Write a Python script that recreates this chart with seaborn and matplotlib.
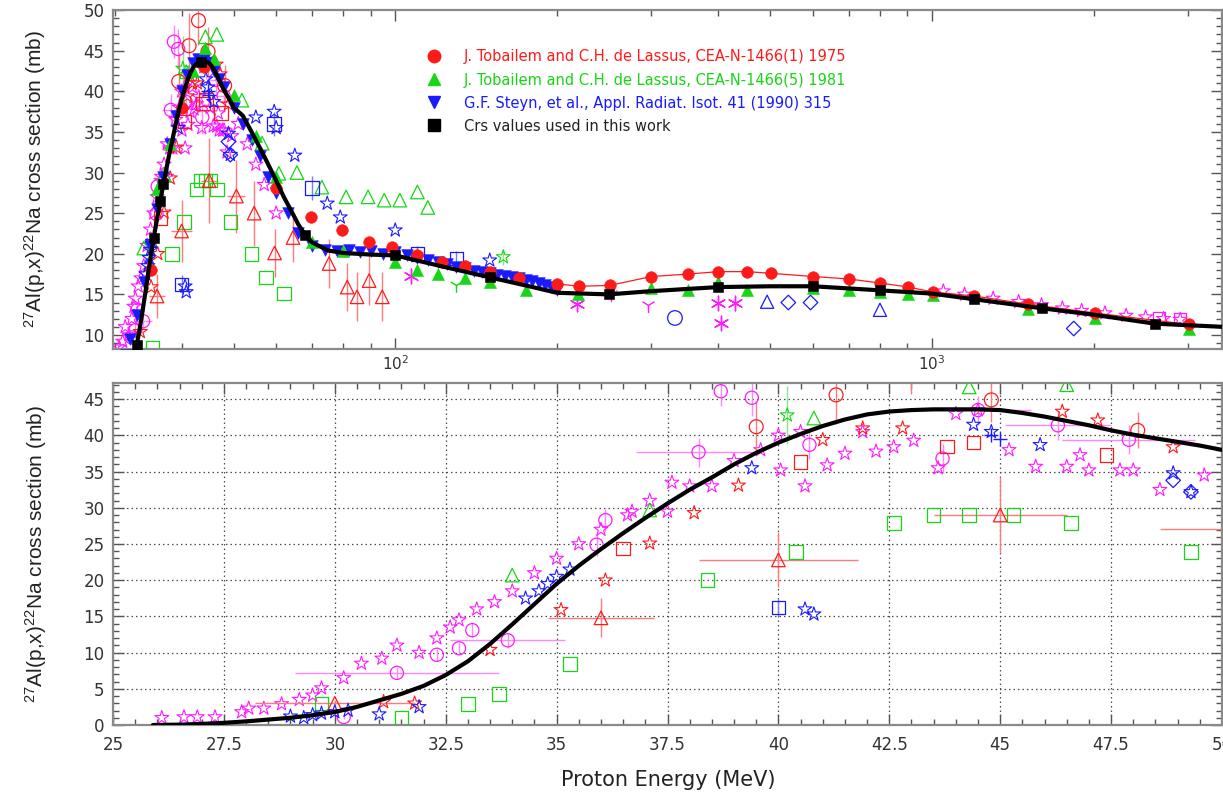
import matplotlib
matplotlib.use("Agg")
import matplotlib.pyplot as plt
from matplotlib.ticker import (MultipleLocator, LogLocator, LogFormatterSciNotation,
                               NullFormatter, FuncFormatter)
from matplotlib.lines import Line2D
import seaborn as sns

# ---------------------------------------------------------------------------
# Evaluated 27Al(p,x)22Na excitation function (values used in this work)
# ---------------------------------------------------------------------------
crs_E = [25.9, 26.5, 27.0, 27.5, 28.0, 28.5, 29.0, 29.5, 30.0, 30.5, 31.0, 31.5,
         32.0, 32.5, 33.0, 33.5, 34.0, 34.5, 35.0, 35.5, 36.0, 36.5, 37.0, 37.5,
         38.0, 38.5, 39.0, 39.5, 40.0, 40.5, 41.0, 41.5, 42.0, 42.5, 43.0, 43.5,
         44.0, 44.5, 45.0, 45.5, 46.0, 46.5, 47.0, 47.5, 48.0, 48.5, 49.0, 49.5,
         50.0, 52.0, 54.0, 56.0, 58.0, 60.0, 62.0, 64.0, 66.0, 68.0, 70.0, 75.0,
         80.0, 90.0, 100.0, 125.0, 150.0, 175.0, 200.0, 250.0, 300.0, 400.0,
         500.0, 600.0, 800.0, 1000.0, 1200.0, 1600.0, 2000.0, 2600.0, 3500.0]
crs_xs = [0.0, 0.05, 0.15, 0.3, 0.5, 0.75, 1.0, 1.35, 1.8, 2.5, 3.4, 4.3,
          5.4, 6.9, 8.8, 11.2, 13.9, 16.7, 19.5, 22.0, 24.3, 26.5, 28.6, 30.6,
          32.5, 34.2, 36.0, 37.6, 39.0, 40.2, 41.3, 42.2, 42.9, 43.3, 43.5, 43.6,
          43.6, 43.6, 43.5, 43.1, 42.6, 42.0, 41.4, 40.7, 40.1, 39.6, 39.1, 38.6,
          38.0, 37.0, 35.0, 33.0, 31.0, 29.0, 27.0, 25.3, 23.6, 22.3, 21.4, 20.4,
          20.1, 19.9, 19.8, 18.3, 17.1, 16.1, 15.2, 15.0, 15.4, 15.9,
          16.0, 16.0, 15.5, 15.1, 14.4, 13.3, 12.5, 11.4, 11.0]
crs_marked_E = [33.0, 35.5, 36.5, 37.0, 43.5, 68.0, 100.0, 150.0, 250.0, 400.0,
                600.0, 800.0, 1200.0, 1600.0, 2600.0]

# J. Tobailem and C.H. de Lassus, CEA-N-1466(1) 1975
tob75_E = [35.1, 40.0, 44.0, 60.0, 69.7, 79.6, 89.4, 98.7, 110, 122, 135, 150, 170,
           200, 220, 251, 300, 351, 400, 452, 501, 600, 700, 800, 904, 1003, 1198,
           1510, 2015, 3013]
tob75_xs = [18.0, 38.0, 43.0, 28.1, 24.5, 22.9, 21.4, 20.8, 19.8, 19.0, 18.5, 17.8,
            17.0, 16.3, 16.0, 16.1, 17.2, 17.5, 17.8, 17.8, 17.6, 17.2, 16.9, 16.4,
            15.9, 15.3, 14.8, 13.8, 12.7, 11.3]

# J. Tobailem and C.H. de Lassus, CEA-N-1466(5) 1981
tob81_E = [36.0, 38.0, 40.0, 42.0, 44.3, 46.0, 50.0, 55, 60, 70, 80, 100, 110, 120,
           135, 150, 175, 219, 300, 351, 400, 452, 600, 700, 800, 904, 1003, 1510,
           2015, 3013]
tob81_xs = [28.0, 33.5, 38.5, 42.5, 45.3, 44.0, 39.5, 34.5, 29.5, 21.5, 20.3, 19.0,
            18.0, 17.5, 17.0, 16.5, 15.5, 15.1, 15.8, 15.5, 16.5, 15.5, 15.8, 15.5,
            15.3, 15.1, 14.9, 13.2, 12.1, 10.8]

# G.F. Steyn et al., Appl. Radiat. Isot. 41 (1990) 315
steyn_E = [31.5, 32.0, 33.0, 34.0, 35.0, 36.0, 37.0, 38.0, 39.0, 40.0, 41.0, 42.0,
           43.0, 44.0, 45.0, 46.0, 47.0, 48.0, 50.0, 52.0, 54.0, 56.0, 58.0, 60.0,
           63.0, 66.0, 70.0, 74.0, 78.0, 82.0, 86.0, 90.0, 95.0, 100, 105, 110, 115,
           120, 125, 130, 135, 140, 145, 150, 155, 160, 165, 170, 175, 180, 185, 190,
           195, 200]
steyn_xs = [7.5, 9.5, 12.5, 16.5, 21.0, 25.5, 29.5, 33.5, 37.0, 40.0, 42.0, 43.5,
            44.0, 43.8, 43.5, 42.5, 41.5, 40.5, 38.0, 36.0, 34.0, 32.0, 29.5, 27.5,
            25.0, 22.5, 21.0, 20.5, 20.3, 20.5, 20.2, 20.3, 20.0, 20.2, 19.8, 19.5,
            19.2, 19.0, 18.7, 18.4, 18.2, 17.9, 17.8, 17.6, 17.4, 17.3, 17.1, 17.0,
            16.8, 16.6, 16.4, 16.2, 15.9, 15.6]

# Other measurements (open symbols)
mstar_E = [26.1, 26.6, 26.9, 27.3, 27.9, 28.06, 28.4, 28.8, 29.2, 29.5, 29.7, 30.2,
           30.6, 31.06, 31.4, 31.9, 32.3, 32.6, 32.8, 33.2, 33.6, 34.0, 34.5, 35.0,
           35.5, 36.0, 36.6, 36.7, 37.1, 37.5, 37.6, 38.0, 38.5, 39.0, 39.6, 40.0,
           40.05, 40.5, 40.6, 41.1, 41.5, 41.9, 42.2, 42.6, 43.05, 43.6, 44.0, 44.5,
           45.2, 45.8, 46.5, 46.8, 47.0, 47.7, 48.0, 48.6, 49.6, 51.0, 53.0, 55.0,
           57.0, 60.0, 1050, 1150, 1300, 1450, 1600, 1750, 1900, 2100, 2300, 2500,
           2700, 2900]
mstar_xs = [1.0, 1.1, 1.1, 1.1, 1.8, 2.3, 2.3, 2.9, 3.5, 4.1, 5.1, 6.5,
            8.5, 9.2, 11.0, 10.0, 12.0, 13.5, 14.5, 16.0, 17.0, 18.5, 21.0, 23.0,
            25.0, 27.0, 29.0, 29.5, 31.0, 29.5, 33.5, 33.0, 33.0, 36.5, 38.0, 40.0,
            35.2, 40.5, 33.0, 35.9, 37.5, 40.5, 37.8, 38.4, 39.3, 35.5, 43.0, 43.5,
            38.0, 35.7, 35.7, 37.3, 35.2, 35.2, 35.2, 32.5, 34.5, 36.0, 33.5, 31.0,
            28.5, 25.0, 15.4, 15.0, 14.5, 14.1, 13.7, 13.3, 13.0, 12.7, 12.4, 12.2,
            12.0, 11.9]

mcirc_E = [30.2, 31.4, 32.3, 32.8, 33.1, 33.9, 35.9, 36.1, 38.2, 38.7, 39.4, 40.7,
           43.7, 44.5, 46.3, 47.9]
mcirc_xs = [1.1, 7.2, 9.7, 10.6, 13.1, 11.7, 24.9, 28.3, 37.7, 46.1, 45.2, 38.7,
            36.8, 43.5, 41.4, 39.4]
mcirc_xerr = [0, 2.3, 0, 0, 0, 1.3, 0, 0, 1.4, 0, 0, 0, 0, 1.2, 1.2, 1.5]
mcirc_yerr = [0.3, 0.8, 0.8, 0.8, 1.0, 1.0, 1.5, 1.5, 2.0, 2.0, 2.5, 2.0,
              2.0, 2.0, 2.0, 2.0]

mast_E = [107, 218, 400, 405, 430]
mast_xs = [17.3, 13.8, 14.0, 11.5, 14.0]
mtri_E = [252, 296]
mtri_xs = [15.1, 13.7]
msq_E = [2650, 2900]
msq_xs = [12.1, 12.0]

rtri_E = [30.0, 36.0, 40.0, 45.0, 50.6, 54.6, 59.6, 64.5, 75.3, 81.4, 84.9, 89.4, 94.6]
rtri_xs = [3.0, 14.8, 22.8, 29.0, 27.1, 25.0, 20.1, 22.0, 18.8, 15.9, 14.7, 16.7, 14.7]
rtri_xerr = [1.8, 1.2, 1.8, 1.5, 2.0, 0, 0, 0, 0, 0, 0, 0, 0]
rtri_yerr = [0.5, 2.7, 3.8, 5.2, 4.5, 4.0, 3.0, 3.0, 3.0, 3.0, 3.0, 3.0, 3.0]

rsq_E = [36.5, 40.5, 43.8, 44.4, 47.4]
rsq_xs = [24.4, 36.3, 38.5, 39.0, 37.3]

rcirc_E = [39.5, 41.3, 43.0, 44.8, 48.1]
rcirc_xs = [41.2, 45.6, 48.7, 44.9, 40.7]
rcirc_yerr = [3.5, 4.0, 3.0, 3.0, 2.5]

rstar_E = [31.1, 31.8, 33.5, 35.1, 36.1, 37.1, 38.1, 39.1, 41.0, 41.9, 42.8, 46.4,
           47.2, 48.9]
rstar_xs = [3.2, 3.0, 10.4, 15.9, 20.0, 25.1, 29.3, 33.1, 39.4, 41.0, 41.0, 43.3,
            42.1, 38.4]

gsq_E = [29.7, 31.5, 33.0, 33.7, 35.3, 38.4, 40.4, 42.6, 43.5, 44.3, 45.3, 46.6,
         49.3, 54.0, 57.4, 62.1]
gsq_xs = [3.0, 1.0, 2.9, 4.3, 8.4, 20.0, 23.9, 27.9, 29.0, 29.0, 29.0, 27.9,
          23.9, 20.0, 17.1, 15.1]

gtri_E = [34.0, 37.1, 40.8, 44.3, 46.5, 51.8, 56.5, 60.7, 65.6, 73.0, 81.0, 89.0,
          95.4, 102, 110, 115]
gtri_xs = [20.7, 29.7, 42.4, 46.7, 47.0, 38.9, 33.6, 29.9, 30.0, 28.2, 27.0, 27.0,
           26.6, 26.6, 27.6, 25.7]

gstar_E = [40.2, 159]
gstar_xs = [42.8, 19.6]
gstar_yerr = [4.0, 1.0]
gy_E = [130]
gy_xs = [16.1]

bstar_E = [29.0, 29.3, 29.5, 29.7, 30.0, 30.3, 31.0, 31.9, 34.3, 34.6, 34.8, 35.0,
           35.3, 39.4, 40.6, 40.8, 44.4, 44.8, 45.9, 48.9, 49.3, 55.0, 59.5, 60.0,
           65.0, 74.7, 79.0, 100, 150]
bstar_xs = [1.2, 1.0, 1.4, 1.6, 1.8, 2.0, 1.5, 2.5, 17.5, 18.5, 19.5, 20.5,
            21.5, 35.5, 16.0, 15.3, 41.5, 40.5, 38.7, 34.8, 32.2, 36.8, 37.5, 35.5,
            32.1, 26.2, 24.5, 22.9, 19.2]

bsq_E = [40.0, 59.5, 70.0, 110, 130]
bsq_xs = [16.2, 36.0, 28.1, 20.0, 19.4]
bsq_yerr = [1.2, 1.5, 1.5, 1.0, 1.0]

bdia_E = [48.9, 49.3, 540, 594, 1837]
bdia_xs = [33.8, 32.2, 14.0, 14.0, 10.8]
btri_E = [493, 800]
btri_xs = [14.1, 13.1]
bcirc_E = [332]
bcirc_xs = [12.1]
bplus_E = [44.8, 45.0]
bplus_xs = [40.0, 39.5]

legend_labels = ["J. Tobailem and C.H. de Lassus, CEA-N-1466(1) 1975",
                 "J. Tobailem and C.H. de Lassus, CEA-N-1466(5) 1981",
                 "G.F. Steyn, et al., Appl. Radiat. Isot. 41 (1990) 315",
                 "Crs values used in this work"]

# ---------------------------------------------------------------------------
RED, RED_E = "#ff1a1a", "#ff7b7b"
GREEN, GREEN_E = "#16d616", "#86ea86"
BLUE, BLUE_E = "#1a1aff", "#7b7bff"
MAG, MAG_E = "#ff1aff", "#ff86ff"
FRAME = "#8a8a8a"
TICKC = "#333333"

sns.set_theme(style="ticks")
plt.rcParams["font.family"] = ["DejaVu Sans"]
plt.rcParams["mathtext.default"] = "regular"

fig = plt.figure(figsize=(12.23, 7.96), dpi=100)
ax1 = fig.add_axes([113 / 1223, 1 - 349 / 796, 1109 / 1223, 339 / 796])
ax2 = fig.add_axes([113 / 1223, 1 - 725 / 796, 1109 / 1223, 342 / 796])
ax1.set_xscale("log")


def draw_open(ax, E, xs, marker, color, s, lw=0.9, xerr=None, yerr=None,
              ecolor=None, z=3, line_art=False):
    if xerr is not None or yerr is not None:
        ax.errorbar(E, xs, xerr=xerr, yerr=yerr, fmt="none",
                    ecolor=ecolor or color, elinewidth=1.0, capsize=0, zorder=z - 0.5)
    if line_art:
        sns.scatterplot(x=E, y=xs, ax=ax, marker=marker, s=s, color=color,
                        linewidth=lw, zorder=z, legend=False)
    else:
        sns.scatterplot(x=E, y=xs, ax=ax, marker=marker, s=s, color="none",
                        edgecolor=color, linewidth=lw, zorder=z, legend=False)


def draw_filled(ax, E, xs, marker, color, s, z=4):
    sns.scatterplot(x=E, y=xs, ax=ax, marker=marker, s=s, color=color,
                    edgecolor=color, linewidth=0.4, zorder=z, legend=False)


crs_lookup = dict(zip(crs_E, crs_xs))
crs_marked_xs = [crs_lookup[e] for e in crs_marked_E]

for ax in (ax1, ax2):
    draw_open(ax, mstar_E, mstar_xs, "*", MAG, 110, lw=0.8, z=2.2)
    draw_open(ax, mcirc_E, mcirc_xs, "o", MAG, 90, xerr=mcirc_xerr,
              yerr=mcirc_yerr, ecolor=MAG_E, z=2.4)
    draw_open(ax, rstar_E, rstar_xs, "*", RED, 110, lw=0.8, z=2.5)
    draw_open(ax, gsq_E, gsq_xs, "s", GREEN, 95, z=2.6)
    draw_open(ax, gtri_E, gtri_xs, "^", GREEN, 95, z=2.6)
    draw_open(ax, gstar_E, gstar_xs, "*", GREEN, 110, lw=0.8, yerr=gstar_yerr,
              ecolor=GREEN_E, z=2.6)
    draw_open(ax, gy_E, gy_xs, "1", GREEN, 110, lw=1.0, z=2.6, line_art=True)
    draw_open(ax, rsq_E, rsq_xs, "s", RED, 95, z=2.7)
    draw_open(ax, rcirc_E, rcirc_xs, "o", RED, 100, yerr=rcirc_yerr,
              ecolor=RED_E, z=2.7)
    draw_open(ax, rtri_E, rtri_xs, "^", RED, 95, xerr=rtri_xerr, yerr=rtri_yerr,
              ecolor=RED_E, z=2.8)
    draw_open(ax, bstar_E, bstar_xs, "*", BLUE, 110, lw=0.8, z=2.9)
    draw_open(ax, bsq_E, bsq_xs, "s", BLUE, 95, yerr=bsq_yerr, ecolor=BLUE_E, z=2.9)
    draw_open(ax, bdia_E, bdia_xs, "D", BLUE, 55, z=2.9)
    draw_open(ax, btri_E, btri_xs, "^", BLUE, 90, z=2.9)
    draw_open(ax, bcirc_E, bcirc_xs, "o", BLUE, 110, z=2.9)
    draw_open(ax, bplus_E, bplus_xs, "+", BLUE, 110, lw=1.0, z=2.9, line_art=True)
    draw_open(ax, mast_E, mast_xs, (6, 2, 0), MAG, 110, lw=1.0, z=2.9, line_art=True)
    draw_open(ax, mtri_E, mtri_xs, "1", MAG, 120, lw=1.0, z=2.9, line_art=True)
    draw_open(ax, msq_E, msq_xs, "s", MAG, 80, z=2.9)
    sns.lineplot(x=crs_E, y=crs_xs, ax=ax, color="black", linewidth=3.0,
                 errorbar=None, zorder=6, legend=False)

# Filled data sets and evaluated points in the wide-range panel
hi = [i for i, e in enumerate(tob75_E) if e >= 200]
sns.lineplot(x=[tob75_E[i] for i in hi], y=[tob75_xs[i] for i in hi], ax=ax1,
             color=RED, linewidth=0.9, errorbar=None, zorder=3.5, legend=False)
draw_filled(ax1, steyn_E, steyn_xs, "v", BLUE, 70, z=4.0)
draw_filled(ax1, tob81_E, tob81_xs, "^", GREEN, 75, z=4.2)
draw_filled(ax1, tob75_E, tob75_xs, "o", RED, 70, z=4.4)
draw_filled(ax1, crs_marked_E, crs_marked_xs, "s", "black", 62, z=7)

# ---------------- axes styling ----------------
ax1.set_xlim(29.8, 3470)
ax1.set_ylim(8.28, 50)
ax2.set_xlim(25, 50)
ax2.set_ylim(0, 47.24)

ax1.xaxis.set_major_locator(LogLocator(base=10, numticks=10))
ax1.xaxis.set_minor_locator(LogLocator(base=10, subs=range(2, 10), numticks=20))
ax1.xaxis.set_major_formatter(LogFormatterSciNotation())
ax1.xaxis.set_minor_formatter(NullFormatter())
ax1.yaxis.set_major_locator(MultipleLocator(5))
ax1.yaxis.set_minor_locator(MultipleLocator(1))

ax2.xaxis.set_major_locator(MultipleLocator(2.5))
ax2.xaxis.set_minor_locator(MultipleLocator(0.5))
ax2.xaxis.set_major_formatter(FuncFormatter(lambda v, p: f"{v:g}"))
ax2.yaxis.set_major_locator(MultipleLocator(5))
ax2.yaxis.set_minor_locator(MultipleLocator(1))
ax2.grid(True, which="major", color="#4d4d4d", linestyle=(0, (1.2, 2.4)),
         linewidth=0.9, zorder=0)
ax2.set_axisbelow(True)

for ax in (ax1, ax2):
    ax.set_xlabel("")
    ax.set_ylabel("")
    for sp in ax.spines.values():
        sp.set_visible(True)
        sp.set_color(FRAME)
        sp.set_linewidth(1.6)
    ax.tick_params(which="both", direction="in", top=True, right=True,
                   color="#555555", width=1.0, labelcolor=TICKC)
    ax.tick_params(which="major", length=8)
    ax.tick_params(which="minor", length=4)
    ax.tick_params(axis="y", labelsize=12, pad=6)

ax1.tick_params(axis="x", labelsize=11, pad=4)
ax2.tick_params(axis="x", labelsize=12, pad=8)

ylab = "$^{27}$Al(p,x)$^{22}$Na cross section (mb)"
fig.text(35 / 1223, 1 - 179 / 796, ylab, rotation=90, ha="center", va="center",
         fontsize=15, family=["Liberation Sans", "DejaVu Sans"], color="#222222")
fig.text(36 / 1223, 1 - 554 / 796, ylab, rotation=90, ha="center", va="center",
         fontsize=15, family=["Liberation Sans", "DejaVu Sans"], color="#222222")
fig.text(668 / 1223, 1 - 780 / 796, "Proton Energy (MeV)", ha="center", va="center",
         fontsize=15, color="#222222")

handles = [Line2D([], [], ls="none", marker="o", color=RED, markersize=9),
           Line2D([], [], ls="none", marker="^", color=GREEN, markersize=9),
           Line2D([], [], ls="none", marker="v", color=BLUE, markersize=9),
           Line2D([], [], ls="none", marker="s", color="black", markersize=8)]
ax1.legend(handles, legend_labels, loc="upper left", bbox_to_anchor=(0.2831, 0.8835),
           frameon=False, fontsize=10.5, labelcolor=[RED, GREEN, BLUE, "#222222"],
           handlelength=1.0, handletextpad=1.55, labelspacing=0.55,
           borderpad=0, borderaxespad=0)

fig.savefig("out.png", dpi=100)
